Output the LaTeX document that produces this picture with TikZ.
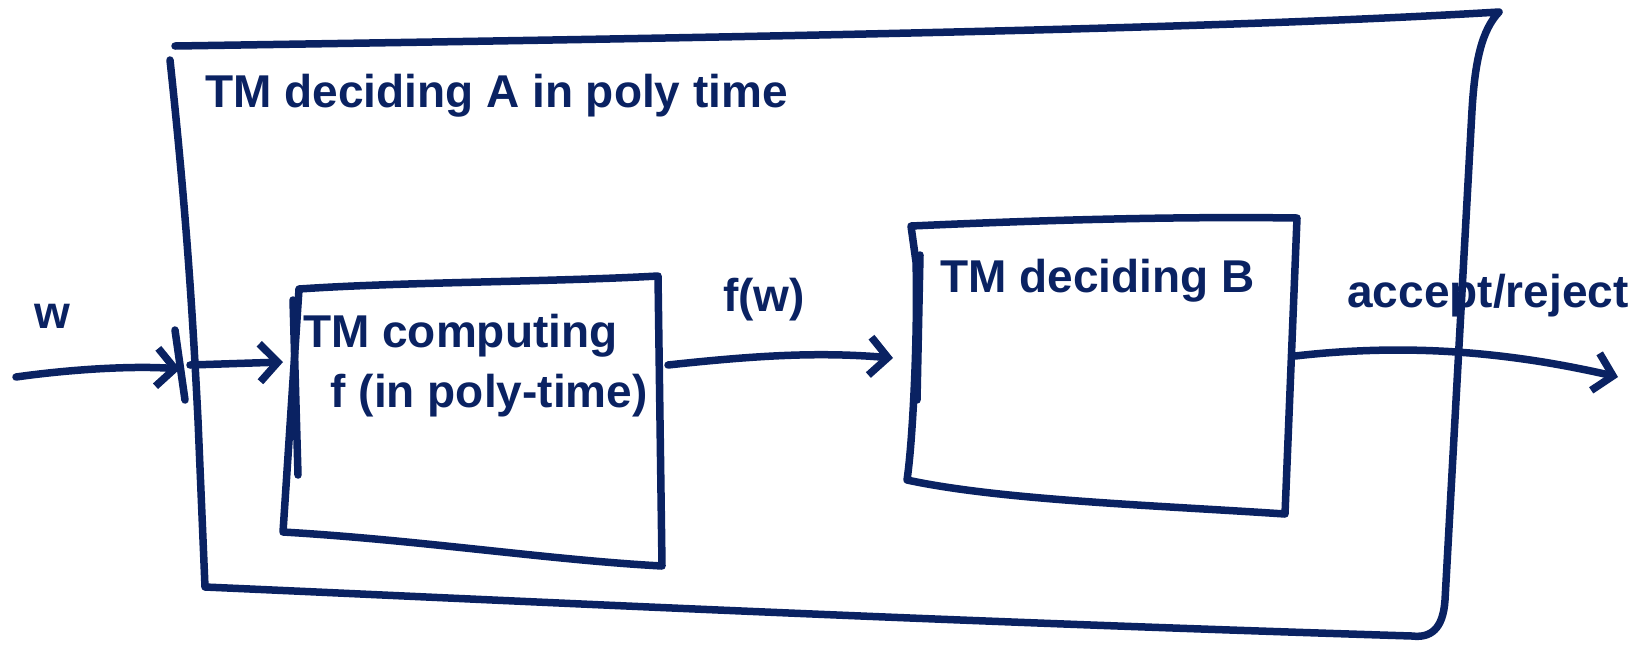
\documentclass[tikz,border=0pt]{standalone}
\usepackage{fontspec}
\setmainfont{Liberation Sans}
\usetikzlibrary{arrows.meta}
\definecolor{ink}{HTML}{0A2262}
\tikzset{
  pen/.style={draw=ink, line width=7.5pt, line cap=round, line join=round},
  conn/.style={pen, -{Straight Barb[length=18pt,width=38pt,line width=7.5pt]}},
  lbl/.style={text=ink, font=\fontsize{46}{52}\bfseries\selectfont, inner sep=0pt},
}
\begin{document}
\begin{tikzpicture}[x=1pt,y=-1pt]
\useasboundingbox (0,0) rectangle (1629,649);
% outer box
\draw[pen] (175,46) .. controls (700,38) and (1200,30) .. (1499,12)
  .. controls (1482,30) and (1475,60) .. (1472,110)
  -- (1445,600) .. controls (1443,630) and (1430,638) .. (1412,636)
  .. controls (900,620) and (500,600) .. (205,587)
  -- (198,420) .. controls (192,300) and (185,200) .. (170,60);
\draw[pen] (175,330) -- (185,400);
% box 1
\draw[pen] (299,289) .. controls (400,282) and (550,282) .. (658,276)
  -- (662,566) .. controls (550,560) and (420,540) .. (283,532)
  -- cycle;
\draw[pen] (293,300) -- (298,475);
% box 2
\draw[pen] (911,226) .. controls (1000,222) and (1150,216) .. (1297,218)
  -- (1285,514) .. controls (1150,505) and (1000,500) .. (907,480)
  .. controls (913,440) and (918,330) .. (916,262) -- cycle;
\draw[pen] (920,255) -- (917,400);
\node[coordinate] (b1in) at (283,362) {};
\node[coordinate] (b1out) at (668,365) {};
\node[coordinate] (b2in) at (893,358) {};
\node[coordinate] (b2out) at (1295,356) {};
\node[coordinate] (src) at (16,377) {};
\node[coordinate] (oin) at (180,369) {};
\node[coordinate] (oout) at (190,365) {};
\node[coordinate] (dst) at (1618,377) {};
% connectors
\draw[conn] (src) .. controls (80,368) and (140,366) .. (oin);
\draw[conn] (oout) -- (b1in);
\draw[conn] (b1out) .. controls (760,355) and (820,352) .. (b2in);
\draw[conn] (b2out) .. controls (1400,344) and (1500,350) .. (dst);
% labels
\node[lbl] (w) at (52,316) {w};
\node[lbl, anchor=west] (title) at (205,96) {TM deciding A in poly time};
\node[lbl, align=left, anchor=north west] (c1) at (303,314) {TM computing\\[8pt]\hspace{0.6em}f (in poly-time)};
\node[lbl] (fw) at (764,300) {f(w)};
\node[lbl, anchor=west] (d2) at (940,281) {TM deciding B};
\node[lbl] (ar) at (1488,296) {accept/reject};
\end{tikzpicture}
\end{document}
